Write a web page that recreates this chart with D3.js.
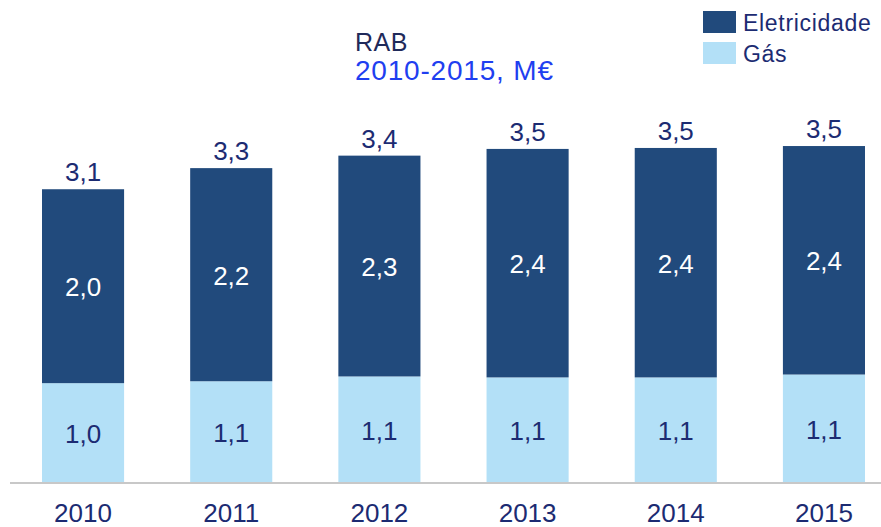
<!DOCTYPE html>
<html>
<head>
<meta charset="utf-8">
<script src="https://cdn.jsdelivr.net/npm/d3@7"></script>
<style>
  html, body { margin: 0; padding: 0; background: #fff; }
  text { font-family: "Liberation Sans", Arial, sans-serif; }
</style>
</head>
<body>
<div id="chart"></div>
<script>
// ---- Data (M€)
const years       = ['2010', '2011', '2012', '2013', '2014', '2015'];
const eletricidade = [2.02, 2.22, 2.30, 2.38, 2.39, 2.38];
const gas          = [1.04, 1.06, 1.11, 1.10, 1.10, 1.13];
const seriesNames  = ['Eletricidade', 'Gás'];

const width = 881, height = 527;
const margins = { top: 3, right: 0, bottom: 44, left: 10 };

const colors = { eletricidade: '#214a7c', gas: '#b3e0f7', text: '#1c2b72', title: '#1f2a5a', subtitle: '#1f3ff0' };

const rows = years.map((y, i) => ({ year: y, e: eletricidade[i], g: gas[i], total: eletricidade[i] + gas[i] }));
const fmt = v => d3.format('.1f')(v).replace('.', ',');

const svg = d3.select('#chart').append('svg')
  .attr('width', width).attr('height', height);

// ---- Scales
const mapX = d3.scaleBand().domain(years).range([42, 865]).paddingInner(0.446).paddingOuter(0);
const mapY = d3.scaleLinear().domain([0, 5]).range([height - margins.bottom, height - margins.bottom - 5 * 96]);

// ---- Bars
const bars = svg.append('g');
bars.selectAll('.gas').data(rows).join('rect')
  .attr('x', d => mapX(d.year)).attr('width', mapX.bandwidth())
  .attr('y', d => mapY(d.g)).attr('height', d => mapY(0) - mapY(d.g))
  .attr('fill', colors.gas);
bars.selectAll('.ele').data(rows).join('rect')
  .attr('x', d => mapX(d.year)).attr('width', mapX.bandwidth())
  .attr('y', d => mapY(d.total)).attr('height', d => mapY(d.g) - mapY(d.total))
  .attr('fill', colors.eletricidade);

// ---- Axis line + year labels
const axisX = svg.append('g')
  .attr('transform', `translate(0, ${mapY(0)})`)
  .call(d3.axisBottom(mapX).tickSize(0).tickPadding(21));
axisX.select('.domain').attr('d', `M${margins.left},0H${width}`).attr('stroke', '#c8c8c8').attr('stroke-width', 2);
axisX.selectAll('.tick text')
  .style('font-family', '"Liberation Sans", Arial, sans-serif')
  .style('font-size', '26px').attr('fill', colors.text);

// ---- Value labels
const labelStyle = s => s.attr('text-anchor', 'middle').style('font-size', '26px');
svg.append('g').selectAll('text').data(rows).join('text')
  .call(labelStyle)
  .attr('x', d => mapX(d.year) + mapX.bandwidth() / 2)
  .attr('y', d => mapY(d.total) - 8)
  .attr('fill', colors.text).text(d => fmt(d.total));
svg.append('g').selectAll('text').data(rows).join('text')
  .call(labelStyle)
  .attr('x', d => mapX(d.year) + mapX.bandwidth() / 2)
  .attr('y', d => (mapY(d.total) + mapY(d.g)) / 2 + 10)
  .attr('fill', '#fff').text(d => fmt(d.e));
svg.append('g').selectAll('text').data(rows).join('text')
  .call(labelStyle)
  .attr('x', d => mapX(d.year) + mapX.bandwidth() / 2)
  .attr('y', d => (mapY(d.g) + mapY(0)) / 2 + 10)
  .attr('fill', colors.text).text(d => fmt(d.g));

// ---- Title
svg.append('text').attr('x', 355).attr('y', 51)
  .style('font-size', '25px').style('letter-spacing', '0.5px')
  .attr('fill', colors.title).text('RAB');
svg.append('text').attr('x', 355).attr('y', 80)
  .style('font-size', '28px').style('letter-spacing', '0.8px')
  .attr('fill', colors.subtitle).text('2010-2015, M€');

// ---- Legend
const legend = svg.append('g').attr('transform', 'translate(703, 11)');
const items = legend.selectAll('g').data(seriesNames).join('g')
  .attr('transform', (d, i) => `translate(0, ${i * 31})`);
items.append('rect').attr('width', 33).attr('height', 22)
  .attr('fill', (d, i) => i === 0 ? colors.eletricidade : colors.gas);
items.append('text').attr('x', 40).attr('y', 20)
  .style('font-size', '23px').style('letter-spacing', '0.7px')
  .attr('fill', colors.text).text(d => d);
</script>
</body>
</html>
